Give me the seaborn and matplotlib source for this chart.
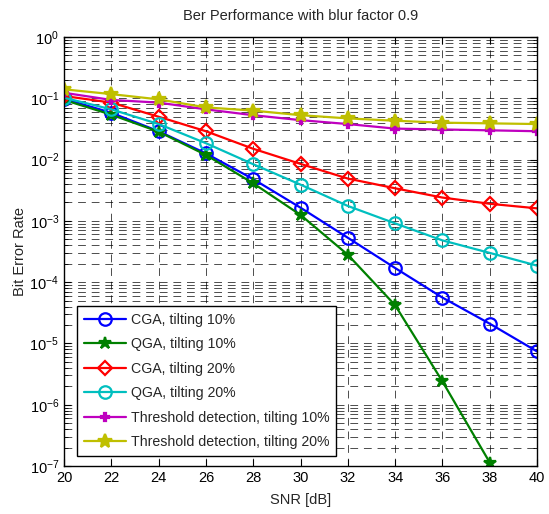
import numpy as np
import pandas as pd
import matplotlib
matplotlib.use("Agg")
import matplotlib.pyplot as plt
import seaborn as sns
from matplotlib.ticker import LogLocator, NullFormatter, FixedLocator

sns.set_style("white")
plt.rcParams['font.family'] = ['Liberation Sans', 'DejaVu Sans']
plt.rcParams['mathtext.fontset'] = 'custom'
plt.rcParams['mathtext.rm'] = 'Liberation Sans'

snr = [20, 22, 24, 26, 28, 30, 32, 34, 36, 38, 40]
cga_10 = [0.098, 0.058, 0.029, 0.0126, 0.0048, 0.00164, 0.00053, 0.00017, 5.6e-5, 2.1e-5, 7.4e-6]
qga_10 = [0.094, 0.054, 0.0285, 0.0119, 0.0041, 0.00125, 0.00028, 4.2e-5, 2.4e-6, 1.14e-7, np.nan]
cga_20 = [0.109, 0.085, 0.050, 0.029, 0.015, 0.0085, 0.0049, 0.0034, 0.0024, 0.0019, 0.0016]
qga_20 = [0.102, 0.066, 0.038, 0.0185, 0.0084, 0.0039, 0.00175, 0.00091, 0.00048, 0.00030, 0.000186]
thr_10 = [0.123, 0.094, 0.085, 0.066, 0.053, 0.044, 0.038, 0.032, 0.031, 0.030, 0.029]
thr_20 = [0.14, 0.117, 0.096, 0.071, 0.063, 0.053, 0.047, 0.043, 0.040, 0.039, 0.038]

labels = ["CGA, tilting 10%", "QGA, tilting 10%", "CGA, tilting 20%",
          "QGA, tilting 20%", "Threshold detection, tilting 10%",
          "Threshold detection, tilting 20%"]
series = [cga_10, qga_10, cga_20, qga_20, thr_10, thr_20]
colors = ["#0000FF", "#008000", "#FF0000", "#00BFBF", "#BF00BF", "#BFBF00"]
markers = ["o", "*", "D", "o", "P", "*"]
msizes = [9, 9, 7, 9, 6, 10]
mfc = ["none", None, "none", "none", None, None]

fig = plt.figure(figsize=(5.49, 5.14), dpi=100)
ax = fig.add_axes([0.1166, 0.0934, 0.8616, 0.8346])

for lab, vals, c, m, ms, fc in zip(labels, series, colors, markers, msizes, mfc):
    df = pd.DataFrame({"snr": snr, "ber": vals}).dropna()
    kw = dict(marker=m, markersize=ms, markeredgecolor=c, markeredgewidth=1.6,
              markerfacecolor=(fc if fc else c))
    sns.lineplot(data=df, x="snr", y="ber", ax=ax, color=c, linewidth=1.6,
                 label=lab, **kw)

ax.set_yscale("log")
ax.set_xlim(20, 40)
ax.set_ylim(1e-7, 1)
ax.xaxis.set_major_locator(FixedLocator(snr))
ax.yaxis.set_major_locator(LogLocator(base=10, numticks=20))
ax.yaxis.set_minor_locator(LogLocator(base=10, subs=np.arange(2, 10), numticks=20))
ax.yaxis.set_minor_formatter(NullFormatter())

grid_kw = dict(color="black", linewidth=0.7, linestyle=(0, (8, 6)), alpha=0.7)
ax.grid(True, which="major", axis="both", **grid_kw)
ax.grid(True, which="minor", axis="y", **grid_kw)
ax.set_axisbelow(True)

ax.tick_params(which="both", direction="in", top=True, right=True, bottom=True, left=True,
               labelsize=10.5, colors="black")
ax.tick_params(which="major", length=5, width=0.8)
ax.tick_params(which="minor", length=3, width=0.6)
for s in ax.spines.values():
    s.set_color("black")
    s.set_linewidth(1.0)

ax.set_xlabel("SNR [dB]", fontsize=10.5, labelpad=6)
ax.set_ylabel("Bit Error Rate", fontsize=10.5, labelpad=2)
ax.set_title("Ber Performance with blur factor 0.9", fontsize=10.5, pad=12)

leg = ax.legend(loc="lower left", bbox_to_anchor=(0.027, 0.023), fontsize=10.2,
                frameon=True, fancybox=False, framealpha=1, edgecolor="black",
                borderpad=0.5, labelspacing=0.74, handlelength=3.0, handletextpad=0.3,
                borderaxespad=0)
leg.get_frame().set_linewidth(1.0)

fig.savefig("out.png", dpi=100)
